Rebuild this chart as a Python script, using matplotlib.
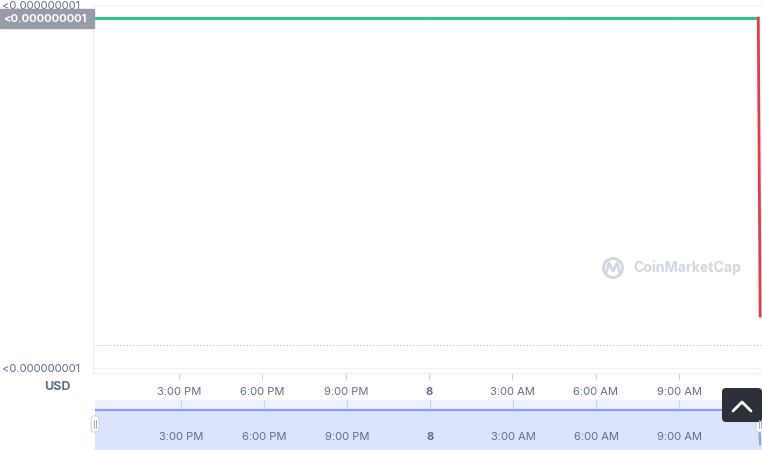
import numpy as np
import pandas as pd
import matplotlib
matplotlib.use("Agg")
import matplotlib.pyplot as plt
import matplotlib.dates as mdates
from matplotlib.patches import FancyBboxPatch, Circle

plt.rcParams['font.family'] = ['Inter', 'DejaVu Sans']

# price history (USD), hourly then the last few minutes
times = list(pd.date_range('2021-06-07 11:54', '2021-06-08 10:54', freq='h')) + \
    [pd.Timestamp('2021-06-08 11:51'), pd.Timestamp('2021-06-08 11:55')]
prices = [9.64e-10, 9.64e-10, 9.64e-10, 9.64e-10, 9.64e-10, 9.64e-10,
          9.64e-10, 9.64e-10, 9.64e-10, 9.64e-10, 9.64e-10, 9.64e-10,
          9.64e-10, 9.64e-10, 9.64e-10, 9.64e-10, 9.64e-10, 9.64e-10,
          9.64e-10, 9.64e-10, 9.64e-10, 9.64e-10, 9.64e-10, 9.64e-10,
          9.64e-10, 1.43e-10]
ref_price = 6.3e-11
ytick_vals = [0.0, 1.0e-9]
ytick_labels = ['<0.000000001', '<0.000000001']
current_label = '<0.000000001'
xtick_times = ['2021-06-07 15:00', '2021-06-07 18:00', '2021-06-07 21:00', '2021-06-08 00:00',
               '2021-06-08 03:00', '2021-06-08 06:00', '2021-06-08 09:00']
xtick_labels = ['3:00 PM', '6:00 PM', '9:00 PM', '8', '3:00 AM', '6:00 AM', '9:00 AM']

W, H = 762, 450
fig = plt.figure(figsize=(W / 100, H / 100), dpi=100)
fig.patch.set_facecolor('white')

def px_axes(x0, y0, x1, y1):
    return fig.add_axes([x0 / W, 1 - y1 / H, (x1 - x0) / W, (y1 - y0) / H])

GRAY = '#616e85'
GREEN = '#16c784'
RED = '#ea3943'
xlim = (pd.Timestamp('2021-06-07 11:54'), pd.Timestamp('2021-06-08 11:59'))
xt = [pd.Timestamp(t) for t in xtick_times]

# main chart
ax = px_axes(93, 5, 762, 373)
ax.plot(times[:-1], prices[:-1], color=GREEN, lw=2, solid_capstyle='butt', zorder=3)
ax.plot(times[:-1], prices[:-1], color='#4db88c', lw=0.5, ls=(0, (4, 3)), zorder=4)
ax.plot(times[-2:], prices[-2:], color=RED, lw=2, zorder=3)
ax.axhline(ref_price, color='#b8bcc6', lw=0.8, ls=(0, (1, 2)), zorder=2)
ax.set_xlim(*xlim)
ax.set_ylim(-1.38e-11, 1.0e-9)
ax.set_yticks(ytick_vals)
ax.set_yticklabels(ytick_labels)
ax.set_xticks(xt)
ax.set_xticklabels(xtick_labels)
for lab in ax.get_xticklabels():
    if lab.get_text() == '8':
        lab.set_fontweight('bold')
ax.tick_params(axis='y', length=0, pad=9, labelsize=8, labelcolor=GRAY)
ax.tick_params(axis='x', length=4, width=0.8, color='#c8ccd4', pad=6, labelsize=8, labelcolor=GRAY)
ax.grid(axis='y', color='#eff2f5', lw=1)
for s in ['top', 'right']:
    ax.spines[s].set_visible(False)
for s in ['left', 'bottom']:
    ax.spines[s].set_color('#eff2f5')
    ax.spines[s].set_linewidth(1)

# navigator
nav = px_axes(95, 400, 762, 450)
nav.set_facecolor('#eef2fe')
nav.plot(times, prices, color='#85a1f5', lw=1.6, zorder=3)
nav.fill_between(times, prices, 0, color='#dbe3fd', zorder=2)
nav.set_xlim(*xlim)
nav.set_ylim(0, 1.205e-9)
nav.set_xticks(xt)
nav.set_xticklabels([])
nav.set_yticks([])
nav.tick_params(length=0)
nav.grid(axis='x', color='#c9d3f3', lw=0.8, zorder=4)
for s in nav.spines.values():
    s.set_visible(False)
for t, lab in zip(xt, xtick_labels):
    nav.text(t, 0.26, lab, transform=nav.get_xaxis_transform(), ha='center', va='center',
             fontsize=8, color=GRAY, zorder=5, fontweight='bold' if lab == '8' else 'normal')

# overlay for labels and widgets, in pixel coordinates
ov = fig.add_axes([0, 0, 1, 1])
ov.set_xlim(0, W)
ov.set_ylim(H, 0)
ov.axis('off')
ov.patch.set_alpha(0)

ov.add_patch(FancyBboxPatch((0, 9), 94, 19, boxstyle='square,pad=0', color='#989ca8'))
ov.text(86, 18.5, current_label, ha='right', va='center', fontsize=8, color='white', fontweight='bold')
ov.text(57, 387, 'USD', ha='center', va='center', fontsize=9, color=GRAY, fontweight='bold')

# watermark
WM = '#cfd6e4'
ov.add_patch(Circle((613, 268), 9.5, fill=False, ec=WM, lw=2))
ov.plot([606, 609, 613, 617, 620], [273, 263, 271, 263, 273], color=WM, lw=2)
ov.text(633, 268, 'CoinMarketCap', ha='left', va='center', fontsize=10.2, color=WM, fontweight='bold')

# navigator handles
for hx in (95, 760):
    ov.add_patch(FancyBboxPatch((hx - 4, 416), 8, 16, boxstyle='round,pad=0,rounding_size=3',
                                fc='white', ec='#d0d4dc', lw=0.8))
    ov.plot([hx - 1, hx - 1], [420, 428], color='#a0a6b2', lw=0.7)
    ov.plot([hx + 1, hx + 1], [420, 428], color='#a0a6b2', lw=0.7)

# scroll-to-top button
ov.add_patch(FancyBboxPatch((722, 388), 40, 34, boxstyle='round,pad=0,rounding_size=4', fc='#2d3036', ec='none'))
ov.plot([733, 742, 751], [411, 402, 411], color='white', lw=2, solid_capstyle='round')

fig.savefig('out.png', dpi=100)
